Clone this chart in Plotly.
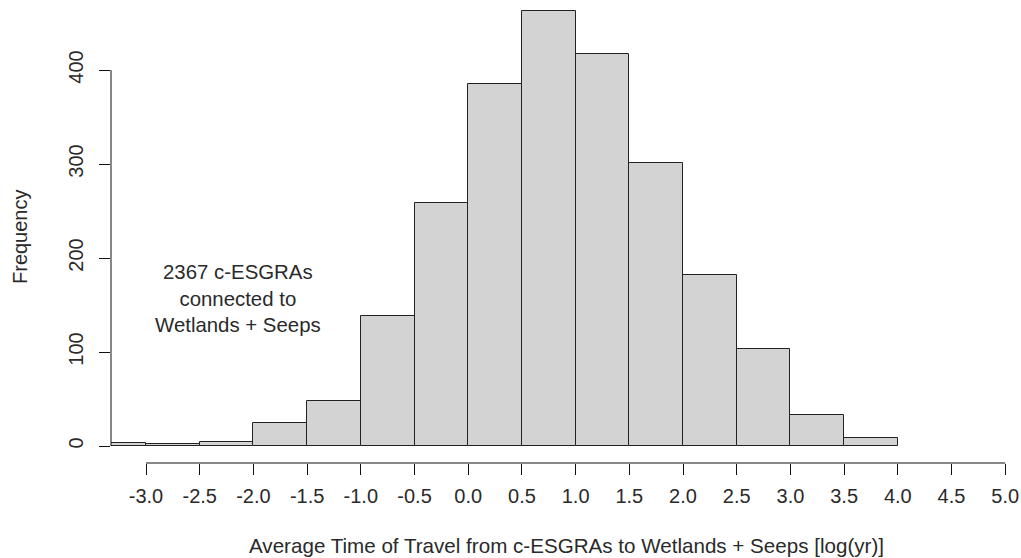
import plotly.graph_objects as go

# Histogram data
bin_edges = [-3.5, -3.0, -2.5, -2.0, -1.5, -1.0, -0.5, 0.0, 0.5, 1.0, 1.5, 2.0, 2.5, 3.0, 3.5, 4.0]
counts = [3, 2, 4, 25, 48, 138, 259, 385, 463, 417, 301, 182, 103, 33, 8]

x_ticks = [-3.0, -2.5, -2.0, -1.5, -1.0, -0.5, 0.0, 0.5, 1.0, 1.5, 2.0, 2.5, 3.0, 3.5, 4.0, 4.5, 5.0]
x_tick_labels = [f"{v:.1f}" for v in x_ticks]
y_ticks = [0, 100, 200, 300, 400]

x_title = "Average Time of Travel from c-ESGRAs to Wetlands + Seeps [log(yr)]"
y_title = "Frequency"
note = "2367 c-ESGRAs<br>connected to<br>Wetlands + Seeps"

centers = [(a + b) / 2 for a, b in zip(bin_edges[:-1], bin_edges[1:])]
widths = [b - a for a, b in zip(bin_edges[:-1], bin_edges[1:])]

FONT = "Liberation Sans, Arial, sans-serif"
TXT = "#2a2a2a"

W, H = 1021, 558
pl, pr, pt, pb = 111, 6, 5, 95
pw, ph = W - pl - pr, H - pt - pb


def px_to_paper(px, py):
    return (px - pl) / pw, (H - pb - py) / ph


fig = go.Figure()
fig.add_trace(go.Bar(
    x=centers, y=counts, width=widths,
    marker=dict(color="#d3d3d3", line=dict(color="#222222", width=1)),
    showlegend=False, hoverinfo="x+y",
))

xt_x, xt_y = px_to_paper(566, 545)
yt_x, yt_y = px_to_paper(20, 237)

fig.update_layout(
    width=W, height=H,
    margin=dict(l=pl, r=pr, t=pt, b=pb),
    paper_bgcolor="white", plot_bgcolor="white",
    font=dict(family=FONT, size=20, color=TXT),
    bargap=0,
    xaxis=dict(
        range=[-3.326, 5.091], tickmode="array", tickvals=x_ticks, ticktext=x_tick_labels,
        ticks="outside", ticklen=11, tickwidth=1, tickcolor="#111",
        showgrid=False, zeroline=False, showline=False, automargin=False,
        ticklabelstandoff=4,
        tickfont=dict(size=20, color=TXT, family=FONT),
    ),
    yaxis=dict(
        range=[-18.09, 469.15], tickmode="array", tickvals=y_ticks,
        ticks="outside", ticklen=11, tickwidth=1, tickcolor="#111",
        showgrid=False, zeroline=False, showline=False, tickangle=-90, automargin=False,
        ticklabelstandoff=8,
        tickfont=dict(size=20, color=TXT, family=FONT),
    ),
    shapes=[
        dict(type="line", xref="paper", yref="y", x0=0, x1=0, y0=0, y1=400,
             line=dict(color="#111", width=1), layer="above"),
        dict(type="line", xref="x", yref="paper", x0=-3.0, x1=5.0, y0=0, y1=0,
             line=dict(color="#111", width=1), layer="above"),
    ],
    annotations=[
        dict(text=note, x=-2.143, y=157, xref="x", yref="y", showarrow=False,
             font=dict(size=20.4, color=TXT, family=FONT), align="center"),
        dict(text=x_title, x=xt_x, y=xt_y, xref="paper", yref="paper", showarrow=False,
             xanchor="center", yanchor="middle",
             font=dict(size=20.6, color=TXT, family=FONT)),
        dict(text=y_title, x=yt_x, y=yt_y, xref="paper", yref="paper", showarrow=False,
             xanchor="center", yanchor="middle", textangle=-90,
             font=dict(size=20, color=TXT, family=FONT)),
    ],
)

fig.write_html(
    "out.html",
    config={"displayModeBar": False},
    post_script="document.body.style.margin='0px';document.body.style.overflow='hidden';",
)
